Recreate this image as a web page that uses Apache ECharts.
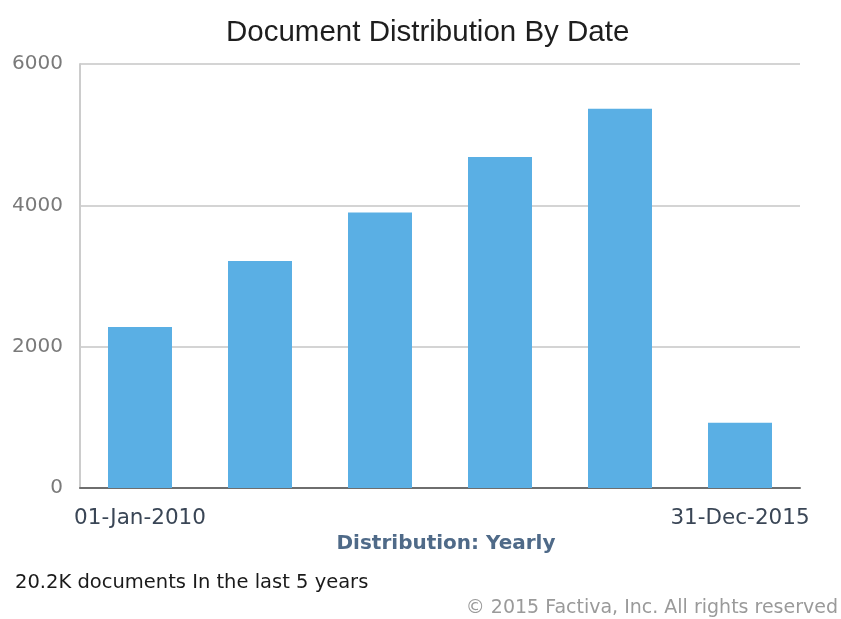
<!DOCTYPE html>
<html>
<head>
<meta charset="utf-8">
<script src="https://cdn.jsdelivr.net/npm/echarts@6/dist/echarts.min.js"></script>
<style>
html,body{margin:0;padding:0;background:#fff;}
#chart{width:841px;height:619px;}
</style>
</head>
<body>
<div id="chart"></div>
<script>
var titleText = 'Document Distribution By Date';
var categories = ['2010', '2011', '2012', '2013', '2014', '2015'];
var docCounts = [2280, 3213, 3897, 4683, 5367, 923];
var xTickLabels = ['01-Jan-2010', '', '', '', '', '31-Dec-2015'];
var yTicks = [0, 2000, 4000, 6000];
var xAxisName = 'Distribution: Yearly';
var footnote = '20.2K documents In the last 5 years';
var copyright = '\u00A9 2015 Factiva, Inc. All rights reserved';

var chart = echarts.init(document.getElementById('chart'), null, {renderer: 'canvas'});
chart.setOption({
  animation: false,
  backgroundColor: '#ffffff',
  title: {
    text: titleText,
    left: 226,
    top: 18,
    padding: 0,
    textStyle: {fontFamily: 'Liberation Sans', fontSize: 29.5, fontWeight: 'normal', color: '#1e1e1e'}
  },
  grid: {left: 80, right: 41, top: 64, bottom: 131, containLabel: false},
  xAxis: {
    type: 'category',
    data: categories,
    name: xAxisName,
    nameLocation: 'middle',
    nameGap: 38,
    nameTextStyle: {fontFamily: 'DejaVu Sans', fontSize: 20, fontWeight: 'bold', color: '#4f6a88', padding: [0, 0, 0, 12]},
    axisLine: {show: true, lineStyle: {color: '#6e6e6e', width: 2}},
    axisTick: {show: false},
    axisLabel: {
      interval: 0,
      margin: 19,
      fontFamily: 'DejaVu Sans',
      fontSize: 21.5,
      color: '#3a4656',
      formatter: function (v, i) { return xTickLabels[i]; }
    },
    splitLine: {show: false}
  },
  yAxis: {
    type: 'value',
    min: yTicks[0],
    max: yTicks[yTicks.length - 1],
    interval: 2000,
    axisLine: {show: true, lineStyle: {color: '#cccccc', width: 2}},
    axisTick: {show: false},
    axisLabel: {
      margin: 17, fontFamily: 'DejaVu Sans', fontSize: 20, color: '#7a7a7a',
      formatter: function (v) { return String(v); }
    },
    splitLine: {show: true, lineStyle: {color: '#c6c6c6', width: 1.5}}
  },
  series: [{
    type: 'bar',
    data: docCounts,
    barWidth: 64,
    itemStyle: {color: '#5aafe4'}
  }],
  graphic: [
    {
      type: 'text', left: 15, top: 573,
      style: {text: footnote, fontFamily: 'DejaVu Sans', fontSize: 19.5, fill: '#1a1a1a'}
    },
    {
      type: 'text', right: 3, top: 599,
      style: {text: copyright, fontFamily: 'DejaVu Sans', fontSize: 19, fill: '#9a9a9a'}
    }
  ]
});
</script>
</body>
</html>
